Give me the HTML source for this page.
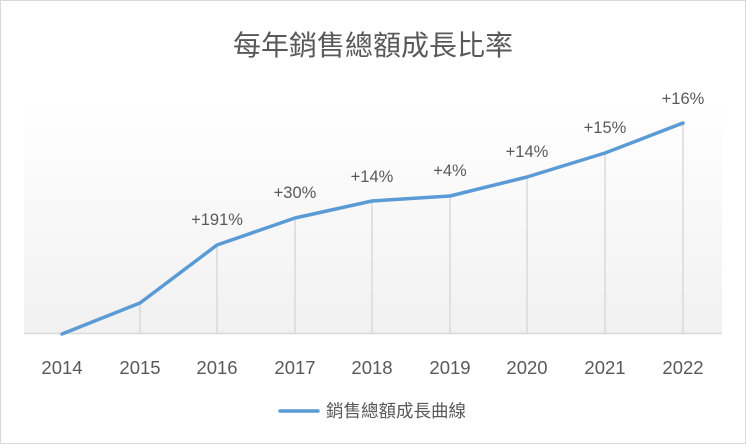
<!DOCTYPE html>
<html><head><meta charset="utf-8"><style>
body{margin:0;background:#fff}
svg{display:block}
text{font-family:"Liberation Sans","Noto Sans CJK TC",sans-serif;fill:#595959}
</style></head><body>
<svg width="746" height="444" viewBox="0 0 746 444">
<defs><linearGradient id="g" x1="0" y1="0" x2="0" y2="1"><stop offset="0" stop-color="#fff"/><stop offset="1" stop-color="#f1f1f1"/></linearGradient></defs>
<rect x="0.5" y="0.5" width="745" height="443" fill="#fff" stroke="#d9d9d9"/>
<rect x="24" y="100" width="698" height="233" fill="url(#g)"/>
<text x="373" y="55" font-size="28" text-anchor="middle" fill="#404040">每年銷售總額成長比率</text>
<g stroke="#d9d9d9" stroke-width="1.5">
<line x1="140" y1="303" x2="140" y2="333"/><line x1="217" y1="245" x2="217" y2="333"/><line x1="295" y1="218" x2="295" y2="333"/><line x1="372" y1="201" x2="372" y2="333"/><line x1="450" y1="196" x2="450" y2="333"/><line x1="527" y1="177" x2="527" y2="333"/><line x1="605" y1="153" x2="605" y2="333"/><line x1="683" y1="123" x2="683" y2="333"/>
<line x1="24" y1="333.5" x2="722" y2="333.5"/>
</g>
<polyline points="62,334 140,303 217,245 295,218 372,201 450,196 527,177 605,153 683,123" fill="none" stroke="#5b9bd5" stroke-width="3.5" stroke-linejoin="round" stroke-linecap="round"/>
<g font-size="16.5" text-anchor="middle">
<text x="217" y="225">+191%</text><text x="295" y="198">+30%</text><text x="372" y="182">+14%</text><text x="450" y="176">+4%</text><text x="527" y="157">+14%</text><text x="605" y="133">+15%</text><text x="683" y="104">+16%</text>
</g>
<g font-size="18.5" text-anchor="middle">
<text x="62" y="374">2014</text><text x="140" y="374">2015</text><text x="217" y="374">2016</text><text x="295" y="374">2017</text><text x="372" y="374">2018</text><text x="450" y="374">2019</text><text x="527" y="374">2020</text><text x="605" y="374">2021</text><text x="683" y="374">2022</text>
</g>
<line x1="280" y1="411" x2="318" y2="411" stroke="#5b9bd5" stroke-width="3.5" stroke-linecap="round"/>
<text x="326" y="417" font-size="17.5">銷售總額成長曲線</text>
</svg>
</body></html>
